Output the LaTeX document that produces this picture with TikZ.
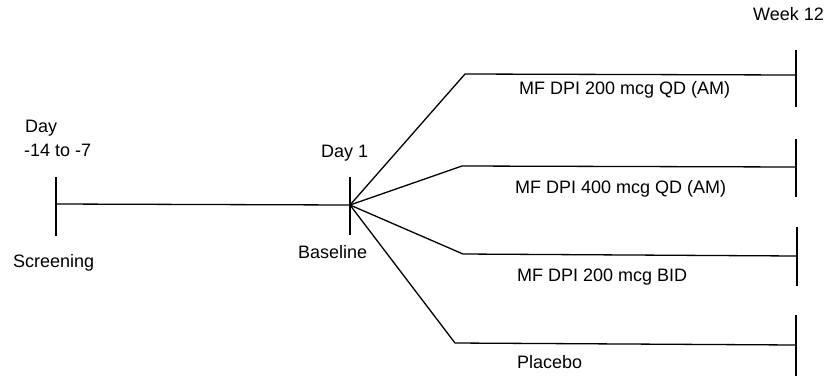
\documentclass[tikz,border=0pt]{standalone}
\usepackage{fontspec}
\setmainfont{Liberation Sans}
\begin{document}
\begin{tikzpicture}[x=1pt,y=-1pt,
  lbl/.style={inner sep=0pt,anchor=base west,font=\fontsize{18}{21}\selectfont},
  ln/.style={line width=1.3pt,line join=round}]
\useasboundingbox (0,0) rectangle (830,376);
% ticks
\coordinate (s1) at (56,177); \coordinate (s2) at (56,236);
\coordinate (b1) at (350,177); \coordinate (b2) at (350,235);
\coordinate (scr) at (56,204);
\coordinate (j) at (350,205);
\draw[ln] (s1) -- (s2);
\draw[ln] (b1) -- (b2);
\draw[ln] (scr) -- (j);
% branch bends and ends
\coordinate (k1) at (465,74); \coordinate (e1) at (796,75);
\coordinate (k2) at (462,166); \coordinate (e2) at (796,167);
\coordinate (k3) at (463,254); \coordinate (e3) at (797,256);
\coordinate (k4) at (455,343); \coordinate (e4) at (796,345);
\draw[ln] (j) -- (k1) -- (e1);
\draw[ln] (j) -- (k2) -- (e2);
\draw[ln] (j) -- (k3) -- (e3);
\draw[ln] (j) -- (k4) -- (e4);
\coordinate (t1a) at (796,50); \coordinate (t1b) at (796,107);
\coordinate (t2a) at (796,139); \coordinate (t2b) at (796,197);
\coordinate (t3a) at (797,227); \coordinate (t3b) at (797,286);
\coordinate (t4a) at (796,315); \coordinate (t4b) at (796,376);
\draw[ln] (t1a) -- (t1b);
\draw[ln] (t2a) -- (t2b);
\draw[ln] (t3a) -- (t3b);
\draw[ln] (t4a) -- (t4b);
% labels
\node[lbl] (day) at (25,132) {Day};
\node[lbl] (dayr) at (24,156) {-14 to -7};
\node[lbl] (scrn) at (13,267) {Screening};
\node[lbl] (day1) at (321,157) {Day 1};
\node[lbl] (base) at (298,258) {Baseline};
\node[lbl] (wk) at (753,20) {Week 12};
\node[lbl] (a1) at (519,94) {MF DPI 200 mcg QD (AM)};
\node[lbl] (a2) at (515,193) {MF DPI 400 mcg QD (AM)};
\node[lbl] (a3) at (517,281) {MF DPI 200 mcg BID};
\node[lbl] (a4) at (517,368) {Placebo};
\end{tikzpicture}
\end{document}
